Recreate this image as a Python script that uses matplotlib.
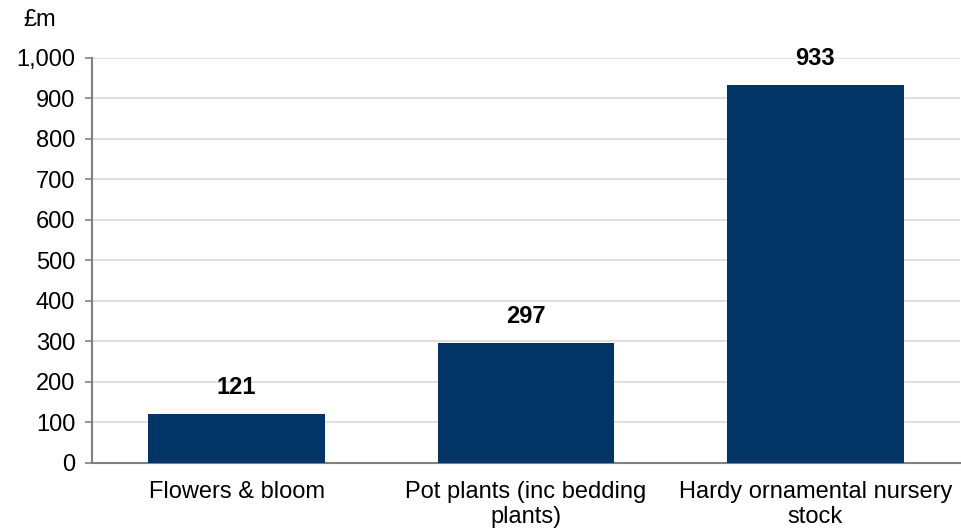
import numpy as np
import matplotlib.pyplot as plt

plt.rcParams['font.family'] = ['Liberation Sans', 'DejaVu Sans']

categories = ['Flowers & bloom', 'Pot plants (inc bedding\nplants)',
              'Hardy ornamental nursery\nstock']
values = [121, 297, 933]
yticks = [0, 100, 200, 300, 400, 500, 600, 700, 800, 900, 1000]

fig = plt.figure(figsize=(9.62, 5.32), dpi=100)
ax = fig.add_axes([0.0956, 0.1297, 0.9024, 0.7613])

x = np.arange(len(categories))
ax.bar(x, values, width=0.61, color='#033466', zorder=3)

for xi, v in zip(x, values):
    ax.annotate(str(v), (xi, v), xytext=(0, 19), textcoords='offset points',
                ha='center', va='center', fontsize=17, fontweight='bold')

ax.set_xlim(-0.5, len(categories) - 0.5)
ax.set_ylim(0, 1000)
ax.set_yticks(yticks)
ax.set_yticklabels([f'{t:,}' for t in yticks], fontsize=17)
ax.set_xticks(x)
ax.set_xticklabels(categories, fontsize=17, linespacing=1.2)
ax.tick_params(axis='x', length=0, pad=13)
ax.tick_params(axis='y', length=5, color='#808080', width=1.2, pad=7)

ax.grid(axis='y', color='#d9d9d9', linewidth=1.2, zorder=0)
for s in ['top', 'right']:
    ax.spines[s].set_visible(False)
for s in ['left', 'bottom']:
    ax.spines[s].set_color('#808080')
    ax.spines[s].set_linewidth(1.5)

fig.text(0.0416, 0.962, '£m', fontsize=17, ha='center', va='center')

fig.savefig('out.png', dpi=100)
